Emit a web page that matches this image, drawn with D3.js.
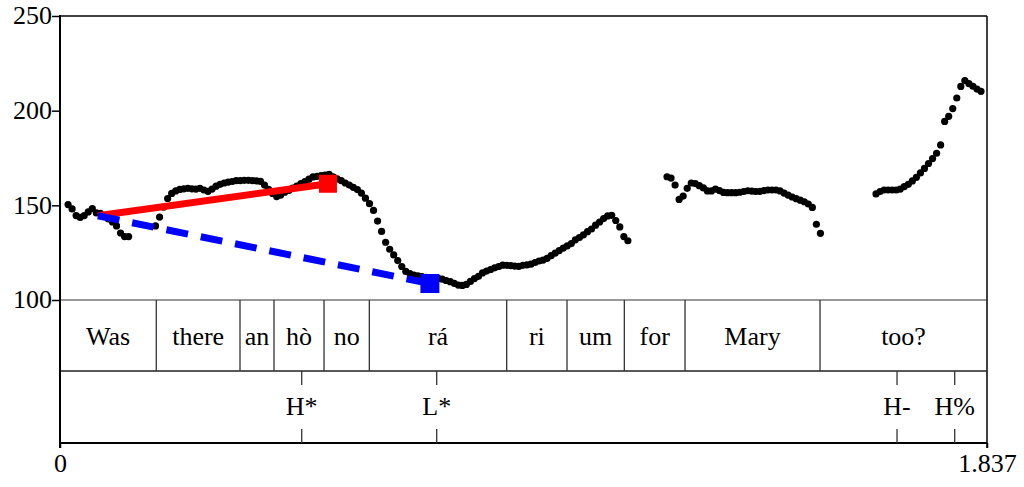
<!DOCTYPE html>
<html>
<head>
<meta charset="utf-8">
<script src="https://cdn.jsdelivr.net/npm/d3@7"></script>
<style>
  body { margin: 0; background: #fff; }
</style>
</head>
<body>
<div id="chart"></div>
<script>
// Pitch track, frames every 8 ms, one array per voiced stretch
const frameStep = 0.008;
const segStarts = [0.016, 0.1893, 1.2029, 1.6171];
const seg1Hz = [150.4, 148.1, 144.6, 143.6, 144.6, 146.5, 148.3, 146.0, 145.7, 144.4, 142.8, 141.2, 139.1, 135.4, 133.5, 133.5];
const seg2Hz = [139.1, 143.8, 149.1, 153.6, 156.3, 157.6, 158.4, 158.7, 159.0, 158.7, 158.6, 159.0, 158.1, 157.4, 158.6,
  160.1, 161.1, 161.8, 162.3, 162.6, 163.0, 163.1, 163.2, 163.2, 163.1, 162.9, 162.7, 160.7, 158.5, 156.3,
  154.6, 155.4, 156.9, 157.9, 159.1, 160.2, 161.5, 162.6, 163.8, 165.0, 165.3, 165.7, 166.0, 166.3, 165.0,
  164.0, 163.1, 161.8, 160.7, 159.5, 158.3, 156.5, 153.8, 150.9, 147.3, 141.7, 136.2, 130.5, 126.8, 123.8,
  120.8, 117.7, 115.1, 114.0, 113.2, 112.7, 112.3, 111.9, 111.6, 111.5, 111.4, 111.0, 110.3, 109.7, 108.8,
  107.9, 107.7, 108.2, 109.8, 111.3, 112.5, 114.3, 115.3, 116.1, 117.0, 117.7, 118.4, 118.3, 118.2, 117.9,
  117.8, 118.3, 118.5, 118.9, 119.8, 120.6, 121.1, 122.0, 123.4, 124.8, 126.1, 127.4, 128.6, 129.8, 131.8,
  133.0, 134.4, 136.1, 137.5, 139.5, 141.2, 143.0, 144.4, 144.7, 142.0, 138.6, 133.5, 131.3];
const seg3Hz = [165.1, 164.4, 160.7, 153.1, 154.9, 159.0, 161.8, 161.5, 160.4, 159.2, 157.6, 157.6, 158.6, 157.8, 156.8,
  156.7, 156.7, 156.7, 156.9, 157.3, 157.7, 157.5, 157.3, 157.4, 157.8, 158.1, 158.1, 158.1, 157.6, 156.5,
  155.4, 154.4, 153.5, 152.7, 151.9, 150.7, 148.9, 140.0, 135.2];
const seg4Hz = [156.0, 157.3, 158.1, 158.1, 158.1, 158.1, 158.6, 159.9, 161.1, 162.9, 164.8, 167.1, 169.5, 172.1, 174.7,
  177.5, 181.9, 194.3, 197.0, 201.1, 206.7, 212.8, 215.9, 214.3, 212.9, 211.4, 210.2];

// Stylised accent lines: [start time, start Hz, end time, end Hz]
const riseLine = [0.075, 144.5, 0.531, 161.4];
const fallLine = [0.075, 144.5, 0.733, 108.7];

// Word tier
const wordBounds = [0, 0.1908, 0.3567, 0.4241, 0.5232, 0.6130, 0.8852, 1.0047, 1.1183, 1.2386, 1.5061, 1.837];
const words = ["Was", "there", "an", "hò", "no", "rá", "ri", "um", "for", "Mary", "too?"];

// Tone tier
const toneTimes = [0.479, 0.7465, 1.6587, 1.773];
const tones = ["H*", "L*", "H-", "H%"];

const yTicks = [100, 150, 200, 250];
const duration = 1.837;

const width = 1024, height = 487;
const plotLeft = 60, plotRight = 987, plotTop = 16, pitchBottom = 300, tierMid = 371, plotBottom = 443;
const serif = "'Liberation Serif', 'DejaVu Serif', serif";

const x = d3.scaleLinear().domain([0, duration]).range([plotLeft, plotRight]);
const y = d3.scaleLinear().domain([100, 250]).range([pitchBottom, plotTop]);

const svg = d3.select("#chart").append("svg")
  .attr("width", width)
  .attr("height", height)
  .style("font-family", serif)
  .style("font-size", "26px");

// frame + tier lines
svg.append("line").attr("x1", plotLeft).attr("x2", plotRight).attr("y1", plotTop).attr("y2", plotTop)
  .attr("stroke", "#000").attr("stroke-width", 1.5);
svg.append("line").attr("x1", plotRight).attr("x2", plotRight).attr("y1", plotTop).attr("y2", plotBottom + 5)
  .attr("stroke", "#000").attr("stroke-width", 1.5);
svg.append("line").attr("x1", plotLeft).attr("x2", plotRight).attr("y1", pitchBottom).attr("y2", pitchBottom)
  .attr("stroke", "#333").attr("stroke-width", 1.2);
svg.append("line").attr("x1", plotLeft).attr("x2", plotRight).attr("y1", tierMid).attr("y2", tierMid)
  .attr("stroke", "#222").attr("stroke-width", 1.5);
svg.append("line").attr("x1", plotLeft).attr("x2", plotRight).attr("y1", plotBottom).attr("y2", plotBottom)
  .attr("stroke", "#000").attr("stroke-width", 2.2);

// y axis
const yAxis = svg.append("g")
  .attr("transform", `translate(${plotLeft},0)`)
  .call(d3.axisLeft(y).tickValues(yTicks).tickSize(8).tickPadding(0).tickFormat(d3.format("d")));
yAxis.attr("font-family", null).attr("font-size", null);
yAxis.select(".domain").remove();
yAxis.selectAll(".tick line").attr("stroke", "#000").attr("stroke-width", 1.5);
yAxis.selectAll(".tick text").attr("dy", "0.3em");
svg.append("line").attr("x1", plotLeft).attr("x2", plotLeft).attr("y1", plotTop - 1).attr("y2", plotBottom + 5)
  .attr("stroke", "#000").attr("stroke-width", 2);

// x axis end labels
const xAxis = svg.append("g")
  .attr("transform", `translate(0,${plotBottom})`)
  .call(d3.axisBottom(x).tickValues([0, duration]).tickSize(5).tickPadding(6)
    .tickFormat(d => d === 0 ? "0" : d3.format(".3f")(d)));
xAxis.attr("font-family", null).attr("font-size", null);
xAxis.select(".domain").remove();
xAxis.selectAll(".tick line").attr("stroke", "#000").attr("stroke-width", 1.5);
xAxis.selectAll(".tick text").attr("dy", "0.71em");

// pitch dots
const pitchPts = [];
[seg1Hz, seg2Hz, seg3Hz, seg4Hz].forEach((hz, s) => {
  hz.forEach((f, i) => pitchPts.push({ t: segStarts[s] + i * frameStep, f }));
});
svg.append("g").selectAll("circle")
  .data(pitchPts)
  .enter().append("circle")
  .attr("cx", d => x(d.t))
  .attr("cy", d => y(d.f))
  .attr("r", 3.6)
  .attr("fill", "#000");

// rise (red) and fall (blue dashed)
svg.append("line")
  .attr("x1", x(riseLine[0])).attr("y1", y(riseLine[1]))
  .attr("x2", x(riseLine[2])).attr("y2", y(riseLine[3]))
  .attr("stroke", "#ff0000").attr("stroke-width", 7);
svg.append("rect")
  .attr("x", x(riseLine[2]) - 9).attr("y", y(riseLine[3]) - 9)
  .attr("width", 18).attr("height", 18).attr("fill", "#ff0000");

svg.append("line")
  .attr("x1", x(fallLine[0])).attr("y1", y(fallLine[1]))
  .attr("x2", x(fallLine[2])).attr("y2", y(fallLine[3]))
  .attr("stroke", "#0000ff").attr("stroke-width", 7)
  .attr("stroke-dasharray", "22,13");
svg.append("rect")
  .attr("x", x(fallLine[2]) - 9.5).attr("y", y(fallLine[3]) - 9.5)
  .attr("width", 19).attr("height", 19).attr("fill", "#0000ff");

// word tier
const inner = wordBounds.slice(1, -1);
svg.append("g").selectAll("line")
  .data(inner)
  .enter().append("line")
  .attr("x1", d => x(d)).attr("x2", d => x(d))
  .attr("y1", pitchBottom).attr("y2", tierMid)
  .attr("stroke", "#333").attr("stroke-width", 1.3);
svg.append("g").selectAll("text")
  .data(words)
  .enter().append("text")
  .attr("x", (d, i) => (x(wordBounds[i]) + x(wordBounds[i + 1])) / 2)
  .attr("y", 345)
  .attr("text-anchor", "middle")
  .text(d => d);

// tone tier
const toneG = svg.append("g").selectAll("g")
  .data(toneTimes)
  .enter().append("g");
toneG.append("line")
  .attr("x1", d => x(d)).attr("x2", d => x(d))
  .attr("y1", tierMid).attr("y2", tierMid + 14)
  .attr("stroke", "#333").attr("stroke-width", 1.3);
toneG.append("line")
  .attr("x1", d => x(d)).attr("x2", d => x(d))
  .attr("y1", plotBottom - 14).attr("y2", plotBottom)
  .attr("stroke", "#333").attr("stroke-width", 1.3);
toneG.append("text")
  .attr("x", d => x(d))
  .attr("y", 415)
  .attr("text-anchor", "middle")
  .text((d, i) => tones[i]);
</script>
</body>
</html>
